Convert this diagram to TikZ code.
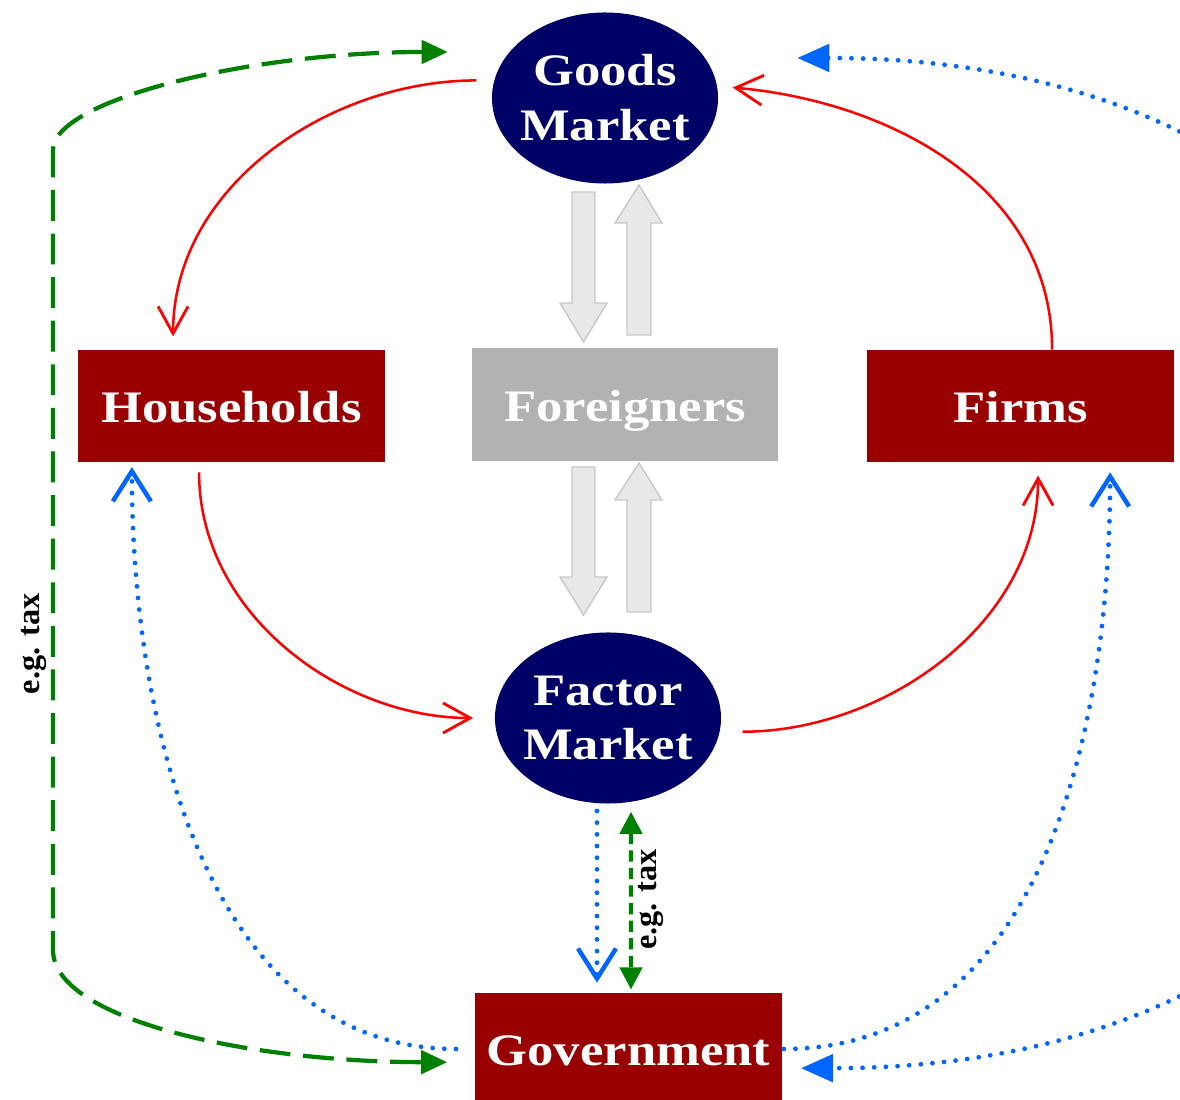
\documentclass[tikz,border=0pt]{standalone}
\usepackage{fontspec}
\newfontfamily\boxfont[FakeStretch=1.17]{Liberation Serif}
\newfontfamily\labelfont{Liberation Serif}
\usepackage{xcolor}
\usetikzlibrary{shapes.geometric,arrows.meta}

\definecolor{navy}{RGB}{0,0,102}
\definecolor{boxred}{RGB}{153,0,0}
\definecolor{foreigngray}{RGB}{178,178,178}
\definecolor{flowred}{RGB}{255,0,0}
\definecolor{flowblue}{RGB}{0,102,255}
\definecolor{taxgreen}{RGB}{0,128,0}

\begin{document}
\begin{tikzpicture}[x=0.025cm, y=0.025cm,
    market/.style={ellipse, fill=navy, text=white, align=center, minimum width=5.65cm, minimum height=4.275cm, inner xsep=-8pt, inner ysep=0pt, font=\boxfont\bfseries\fontsize{32}{39}\selectfont},
    agent/.style={rectangle, fill=boxred, text=white, minimum width=7.65cm, minimum height=2.8cm, inner sep=2pt, text height=24pt, text depth=0pt, font=\boxfont\bfseries\fontsize{32}{39}\selectfont},
    blockarrow/.style={fill={rgb,255:red,232;green,232;blue,232}, draw={rgb,255:red,200;green,200;blue,200}, line width=1pt},
    goodsflow/.style={flowred, line width=1.8pt, -{Straight Barb[length=0.68cm,width=0.75cm,line width=2pt]}},
    payflow/.style={flowblue, line width=3.4pt, line cap=round, dash pattern=on 0pt off 8.3pt},
    paytip/.style={-{Straight Barb[length=0.75cm,width=0.95cm,line width=3.2pt]}},
    taxflow/.style={taxgreen, line width=3pt},
    taxlabel/.style={black, font=\labelfont\bfseries\fontsize{23}{27}\selectfont}]
    \useasboundingbox (0,0) rectangle (1180,1100);

    % markets
    \node[market] (goods) at (605,1002) {Goods\\Market};
    \node[market] (factor) at (608,382) {Factor\\Market};

    % agents
    \node[agent] (hh) at (231.5,694) {Households};
    \node[agent, fill=foreigngray] (foreign) at (625,695.5) {Foreigners};
    \node[agent] (firms) at (1020.5,694) {Firms};
    \node[agent] (gov) at (628.5,51) {Government};

    % trade with foreigners
    \foreach \yt/\yb/\yp in {908/797/758, 633/523/485}
        \draw[blockarrow] (572,\yt) -- (595,\yt) -- (595,\yb) -- (607,\yb) -- (583.5,\yp) -- (560,\yb) -- (572,\yb) -- cycle;
    \foreach \yt/\yb/\yp in {765/877/915, 488/600/637}
        \draw[blockarrow] (627,\yt) -- (651,\yt) -- (651,\yb) -- (662,\yb) -- (639,\yp) -- (615,\yb) -- (627,\yb) -- cycle;

    % circular flow
    \draw[goodsflow, shorten <=0.44cm, shorten >=0.33cm] (goods.171) to[out=180,in=90] ([xshift=-1.46cm]hh.north);
    \draw[goodsflow, shorten <=0.25cm, shorten >=0.54cm] ([xshift=-0.81cm]hh.south) to[out=-90,in=180] (factor.west);
    \draw[goodsflow, shorten <=0.57cm, shorten >=0.33cm] (factor.-7) to[out=0,in=-90] ([xshift=0.44cm]firms.south);
    \draw[goodsflow, shorten >=0.39cm] ([xshift=0.79cm]firms.north) to[out=90,in=-5] (goods.6);

    % government
    \draw[payflow, paytip, shorten <=0.48cm, shorten >=0.12cm] (gov.west) to[out=180,in=-90] ([xshift=-2.49cm]hh.south);
    \draw[payflow, paytip, shorten <=0.05cm, shorten >=0.25cm] (gov.east) to[out=0,in=-90] ([xshift=2.24cm]firms.south);
    \draw[payflow, paytip, shorten <=0.18cm, shorten >=0.25cm] ([xshift=-0.275cm]factor.south) -- ([xshift=-0.7875cm]gov.north);
    \draw[payflow, {Triangle[length=0.8cm,width=0.68cm]}-{Triangle[length=0.8cm,width=0.68cm]}] ([xshift=1.975cm,yshift=1cm]goods.east) .. controls +(22cm,0) and +(22cm,0) .. ([xshift=0.48cm,yshift=-0.48cm]gov.east);

    % taxes
    \draw[taxflow, dash pattern=on 22pt off 9pt, {Triangle[length=0.65cm,width=0.58cm]}-{Triangle[length=0.65cm,width=0.58cm]}] ([xshift=-1.1cm,yshift=1.15cm]goods.west) .. controls (250,1048) and (53,1000) .. (53,950) -- node[pos=.62, above=1.5pt, rotate=90, taxlabel] {e.g. tax} (53,150) .. controls (53,80) and (250,38) .. ([xshift=-0.7cm,yshift=-0.33cm]gov.west);
    \draw[taxflow, dash pattern=on 8pt off 4.5pt, {Triangle[length=0.55cm,width=0.55cm]}-{Triangle[length=0.55cm,width=0.55cm]}, shorten <=0.2cm, shorten >=0.08cm] ([xshift=0.575cm]factor.south) -- node[below=1pt, rotate=90, taxlabel] {e.g. tax} ([xshift=0.0625cm]gov.north);
\end{tikzpicture}
\end{document}
